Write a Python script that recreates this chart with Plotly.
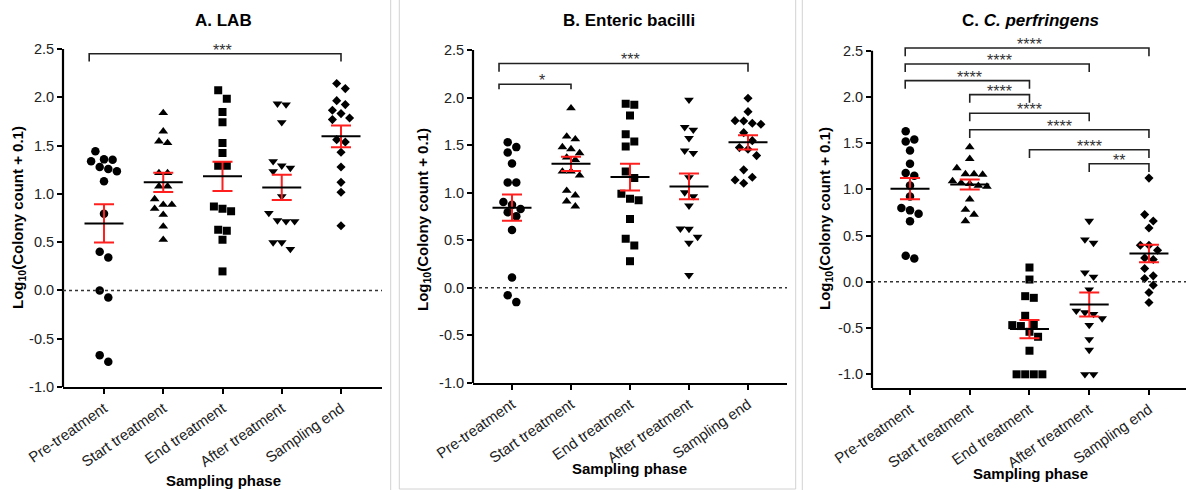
import numpy as np
import plotly.graph_objects as go

W, H = 1186, 490

categories = ["Pre-treatment", "Start treatment", "End treatment", "After treatment", "Sampling end"]
y_tick_vals = [-1.0, -0.5, 0.0, 0.5, 1.0, 1.5, 2.0, 2.5]
y_tick_text = [f"{v:.1f}" for v in y_tick_vals]

# ---------------- A. LAB ----------------
lab_pre = [1.44, 1.354, 1.357, 1.337, 1.278, 1.257, 1.233, 1.13, 0.795, 0.40, 0.342, 0.0, -0.073, -0.67, -0.739]
lab_start = [1.838, 1.648, 1.527, 1.544, 1.216, 1.216, 1.078, 1.078, 0.946, 0.888, 0.888, 0.846, 0.784, 0.663, 0.525]
lab_end = [2.073, 1.986, 1.848, 1.741, 1.527, 1.423, 1.292, 1.292, 0.870, 0.846, 0.819, 0.618, 0.629, 0.525, 0.197]
lab_after = [1.934, 1.924, 1.741, 1.337, 1.292, 1.268, 1.233, 0.974, 0.801, 0.715, 0.715, 0.725, 0.497, 0.497, 0.428]
lab_send = [2.142, 2.09, 1.924, 1.965, 1.865, 1.831, 1.786, 1.769, 1.537, 1.561, 1.43, 1.278, 1.119, 1.016, 0.67]
lab_mean = [0.694, 1.119, 1.181, 1.067, 1.596]
lab_sem = [0.199, 0.100, 0.152, 0.130, 0.113]
lab_brackets = [(0, 4, "***")]

# ---------------- B. Enteric bacilli ----------------
ent_pre = [1.531, 1.479, 1.423, 1.308, 1.108, 1.108, 0.902, 0.874, 0.794, 0.829, 0.752, 0.608, 0.108, -0.077, -0.150]
ent_start = [1.888, 1.591, 1.563, 1.458, 1.479, 1.416, 1.371, 1.346, 1.224, 1.224, 1.182, 0.972, 1.021, 0.909, 0.857]
ent_end = [1.923, 1.934, 1.811, 1.615, 1.538, 1.486, 1.224, 1.154, 0.990, 0.937, 0.920, 0.724, 0.517, 0.444, 0.280]
ent_after = [1.976, 1.661, 1.689, 1.573, 1.416, 1.441, 1.161, 1.003, 0.962, 0.864, 0.619, 0.622, 0.535, 0.472, 0.133]
ent_send = [1.993, 1.852, 1.754, 1.72, 1.73, 1.757, 1.631, 1.547, 1.474, 1.457, 1.39, 1.24, 1.163, 1.134, 1.10]
ent_mean = [0.843, 1.304, 1.164, 1.066, 1.530]
ent_sem = [0.138, 0.075, 0.140, 0.136, 0.075]
ent_brackets = [(0, 4, "***"), (0, 1, "*")]

# ---------------- C. C. perfringens ----------------
cp_pre = [1.629, 1.518, 1.540, 1.421, 1.277, 1.176, 1.147, 1.043, 0.924, 0.737, 0.799, 0.773, 0.655, 0.252, 0.281]
cp_start = [1.457, 1.331, 1.23, 1.165, 1.165, 1.16, 1.09, 1.07, 1.06, 1.04, 1.03, 0.892, 0.781, 0.727, 0.658]
cp_end = [0.155, 0.025, -0.173, -0.155, -0.367, -0.457, -0.478, -0.468, -0.540, -0.594, -0.745, -1.0, -1.0, -1.0, -1.0]
cp_after = [0.658, 0.421, 0.457, 0.101, 0.054, -0.083, -0.349, -0.313, -0.331, -0.396, -0.468, -0.622, -0.737, -1.0, -1.0]
cp_send = [1.122, 0.727, 0.658, 0.583, 0.396, 0.396, 0.342, 0.259, 0.241, 0.144, 0.036, 0.065, -0.036, -0.115, -0.223]
cp_mean = [1.007, 1.054, -0.511, -0.245, 0.306]
cp_sem = [0.115, 0.054, 0.099, 0.130, 0.094]
cp_brackets = [(0, 4, "****"), (0, 3, "****"), (0, 2, "****"), (1, 2, "****"),
               (1, 3, "****"), (1, 4, "****"), (2, 4, "****"), (3, 4, "**")]

# ---------------- styling / layout config ----------------
FONT = "Liberation Sans, Arial, Helvetica, sans-serif"
RED = "#ff1f1f"
symbols = ["circle", "triangle-up", "square", "triangle-down", "diamond"]
msizes = [8.5, 8.5, 8, 8.5, 7]

panels = [
    dict(data=[lab_pre, lab_start, lab_end, lab_after, lab_send], mean=lab_mean, sem=lab_sem,
         brackets=lab_brackets, heights=[2.45], legs=[0.08], pad0=0.25,
         xpx=(63, 382), ypx=(387, 34.5), xr=(-0.692, 4.692), yr=(-1.0, 2.65),
         title="<b>A. LAB</b>", t_xy=(223, 20), yt_xy=(18, 218), xt_xy=(223, 480)),
    dict(data=[ent_pre, ent_start, ent_end, ent_after, ent_send], mean=ent_mean, sem=ent_sem,
         brackets=ent_brackets, heights=[2.358, 2.14], legs=[0.087, 0.052], pad0=0.22,
         xpx=(473, 787), ypx=(383, 35.7), xr=(-0.661, 4.661), yr=(-1.0, 2.65),
         title="<b>B. Enteric bacilli</b>", t_xy=(629, 21), yt_xy=(423, 220), xt_xy=(629, 468)),
    dict(data=[cp_pre, cp_start, cp_end, cp_after, cp_send], mean=cp_mean, sem=cp_sem,
         brackets=cp_brackets, heights=[2.529, 2.356, 2.176, 2.025, 1.824, 1.644, 1.428, 1.277],
         legs=[0.088] * 8, pad0=0.08,
         xpx=(872, 1186), ypx=(388, 36.8), xr=(-0.636, 4.62), yr=(-1.148, 2.65),
         title="<b>C. <i>C. perfringens</i></b>", t_xy=(1030, 20), yt_xy=(825, 219), xt_xy=(1030, 473)),
]


def swarm(vals, ppy, ppx, d=8.6):
    """GraphPad-like column scatter: rows of near-equal values spread symmetrically."""
    y = np.asarray(vals, float) * ppy
    n = len(y)
    order = np.argsort(-y, kind="stable")
    rows = []
    for i in order:
        if rows and y[rows[-1][0]] - y[i] < 1.0 * d:
            rows[-1].append(i)
        else:
            rows.append([i])
    off = np.zeros(n)
    placed = []
    for row in rows:
        k = len(row)
        base = [(j - (k - 1) / 2) * d for j in range(k)]
        cand = base
        for shift in [0, d / 2, -d / 2, d, -d, 1.5 * d, -1.5 * d, 2 * d, -2 * d]:
            cand = [b + shift for b in base]
            ok = True
            for idx, cx in zip(row, cand):
                for (qx, qy) in placed:
                    if (cx - qx) ** 2 + (y[idx] - qy) ** 2 < (0.9 * d) ** 2:
                        ok = False
                        break
                if not ok:
                    break
            if ok:
                break
        for idx, cx in zip(row, cand):
            off[idx] = cx
            placed.append((cx, y[idx]))
    return off / ppx


fig = go.Figure()
shapes = []
annotations = []
layout_axes = {}

def px2paper_x(px):
    return px / W

def px2paper_y(py):
    return 1 - py / H

for pi, p in enumerate(panels):
    sfx = "" if pi == 0 else str(pi + 1)
    xa, ya = "x" + sfx, "y" + sfx
    x0px, x1px = p["xpx"]
    yb, yt = p["ypx"]
    ppx = (x1px - x0px) / (p["xr"][1] - p["xr"][0])
    ppy = (yb - yt) / (p["yr"][1] - p["yr"][0])

    # points
    for c, vals in enumerate(p["data"]):
        offs = swarm(vals, ppy, ppx)
        fig.add_trace(go.Scatter(
            x=c + offs, y=vals, mode="markers", xaxis=xa, yaxis=ya,
            marker=dict(symbol=symbols[c], size=msizes[c], color="black", line=dict(width=0)),
            hoverinfo="skip", showlegend=False))

    # SEM (red)
    fig.add_trace(go.Scatter(
        x=list(range(5)), y=p["mean"], mode="markers", xaxis=xa, yaxis=ya,
        marker=dict(size=1, color="rgba(0,0,0,0)"),
        error_y=dict(type="data", array=p["sem"], color=RED, thickness=2, width=10),
        hoverinfo="skip", showlegend=False))

    # mean lines (black)
    half = 19.5 / ppx
    mx, my = [], []
    for c, m in enumerate(p["mean"]):
        mx += [c - half, c + half, None]
        my += [m, m, None]
    fig.add_trace(go.Scatter(x=mx, y=my, mode="lines", xaxis=xa, yaxis=ya,
                             line=dict(color="black", width=2), hoverinfo="skip", showlegend=False))

    # axes
    layout_axes["xaxis" + sfx] = dict(
        domain=[px2paper_x(x0px), min(1.0, px2paper_x(x1px))], range=list(p["xr"]), anchor=ya,
        tickvals=list(range(5)), ticktext=categories, tickangle=-35,
        ticks="outside", ticklen=5, tickwidth=2, tickcolor="black",
        showline=True, linewidth=2, linecolor="black", showgrid=False, zeroline=False,
        tickfont=dict(family=FONT, size=15, color="#222"), fixedrange=True, automargin=False)
    layout_axes["yaxis" + sfx] = dict(
        domain=[px2paper_y(yb), px2paper_y(yt)], range=list(p["yr"]), anchor=xa,
        tickvals=y_tick_vals, ticktext=y_tick_text,
        ticks="outside", ticklen=5, tickwidth=2, tickcolor="black",
        showline=False, showgrid=False, zeroline=False,
        tickfont=dict(family=FONT, size=14.5, color="#222"), fixedrange=True, automargin=False)

    # y-axis line (only up to 2.5)
    shapes.append(dict(type="line", xref=xa + " domain", yref=ya, x0=0, x1=0,
                       y0=p["yr"][0], y1=2.5, line=dict(color="black", width=2.2)))
    # dotted zero line
    shapes.append(dict(type="line", xref=xa + " domain", yref=ya, x0=0, x1=1, y0=0, y1=0,
                       line=dict(color="#333", width=1.5, dash="dot")))

    # significance brackets
    for (a, b, lab), h, leg in zip(p["brackets"], p["heights"], p["legs"]):
        xa0 = a - (p["pad0"] if a == 0 else 0.0)
        shapes.append(dict(type="path", xref=xa, yref=ya,
                           path=f"M {xa0},{h - leg} L {xa0},{h} L {b},{h} L {b},{h - leg}",
                           line=dict(color="#222", width=1.6)))
        annotations.append(dict(x=(a + b) / 2, y=h, xref=xa, yref=ya, text=lab, showarrow=False,
                                yanchor="bottom", yshift=-7,
                                font=dict(family=FONT, size=16, color="#333")))

    # titles
    tx, ty = p["t_xy"]
    annotations.append(dict(x=px2paper_x(tx), y=px2paper_y(ty), xref="paper", yref="paper",
                            text=p["title"], showarrow=False, xanchor="center", yanchor="middle",
                            font=dict(family=FONT, size=17, color="black")))
    yx, yy = p["yt_xy"]
    annotations.append(dict(x=px2paper_x(yx), y=px2paper_y(yy), xref="paper", yref="paper",
                            text="<b>Log<sub>10</sub>(Colony count + 0.1)</b>", textangle=-90,
                            showarrow=False, xanchor="center", yanchor="middle",
                            font=dict(family=FONT, size=15, color="black")))
    xx, xy = p["xt_xy"]
    annotations.append(dict(x=px2paper_x(xx), y=px2paper_y(xy), xref="paper", yref="paper",
                            text="<b>Sampling phase</b>", showarrow=False,
                            xanchor="center", yanchor="middle",
                            font=dict(family=FONT, size=15, color="black")))

# light grey image borders
BORDER = "#d2d2d2"
for bx in (390.7, 802.3):
    shapes.append(dict(type="line", xref="paper", yref="paper",
                       x0=px2paper_x(bx), x1=px2paper_x(bx), y0=0, y1=1,
                       line=dict(color=BORDER, width=1)))
shapes.append(dict(type="path", xref="paper", yref="paper",
                   path=(f"M {px2paper_x(399.3)},1 L {px2paper_x(399.3)},{px2paper_y(489)} "
                         f"L {px2paper_x(795.7)},{px2paper_y(489)} L {px2paper_x(795.7)},1"),
                   line=dict(color=BORDER, width=1)))

fig.update_layout(
    width=W, height=H, margin=dict(l=0, r=0, t=0, b=0, autoexpand=False),
    plot_bgcolor="white", paper_bgcolor="white", showlegend=False,
    font=dict(family=FONT, color="black"),
    shapes=shapes, annotations=annotations, **layout_axes)

fig.write_html(
    "out.html",
    config={"displayModeBar": False},
    post_script="document.body.style.margin='0';document.body.style.overflow='hidden';",
)
